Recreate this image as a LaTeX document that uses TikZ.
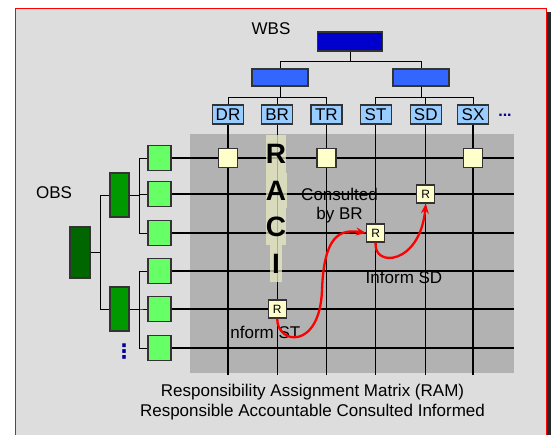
\documentclass[tikz,border=0pt]{standalone}
\usepackage{fontspec}
\setmainfont{Liberation Sans}
\newfontfamily\symbolfont{DejaVu Sans}
\usetikzlibrary{arrows, arrows.meta}
\usetikzlibrary{positioning}

\definecolor{framegrey}{RGB}{221,221,221}
\definecolor{ramgrey}{RGB}{178,178,178}
\definecolor{shadowgrey}{RGB}{40,40,40}
\definecolor{edgegrey}{RGB}{51,51,51}
\definecolor{wbsdark}{RGB}{0,0,204}
\definecolor{wbsmid}{RGB}{51,102,255}
\definecolor{wbslight}{RGB}{153,204,255}
\definecolor{obsdark}{RGB}{0,102,0}
\definecolor{obsmid}{RGB}{0,153,0}
\definecolor{obslight}{RGB}{102,255,102}
\definecolor{cellyellow}{RGB}{255,255,204}
\definecolor{raciband}{RGB}{232,232,192}
\definecolor{morenavy}{RGB}{0,0,153}

\tikzstyle{wbs_top} = [rectangle, draw=edgegrey, fill=wbsdark, line width=1.2pt, minimum width=65pt, minimum height=19pt, inner sep=0pt]
\tikzstyle{wbs_mid} = [rectangle, draw=edgegrey, fill=wbsmid, line width=1.2pt, minimum width=56pt, minimum height=17pt, inner sep=0pt]
\tikzstyle{wbs_leaf} = [rectangle, text centered, draw=edgegrey, fill=wbslight, line width=1.2pt, minimum width=31pt, minimum height=19pt, inner sep=1pt, font=\fontsize{17}{17}\selectfont]
\tikzstyle{obs_top} = [rectangle, draw=edgegrey, fill=obsdark, line width=1.2pt, minimum width=20pt, minimum height=51pt, inner sep=0pt]
\tikzstyle{obs_mid} = [rectangle, draw=edgegrey, fill=obsmid, line width=1.2pt, minimum width=19pt, minimum height=44pt, inner sep=0pt]
\tikzstyle{obs_leaf} = [rectangle, draw=edgegrey, fill=obslight, line width=1.2pt, minimum width=23pt, minimum height=25pt, inner sep=0pt]
\tikzstyle{cell} = [rectangle, draw=edgegrey, fill=cellyellow, line width=1.2pt, minimum size=19pt, inner sep=0pt]
\tikzstyle{raci_cell} = [rectangle, text centered, draw=edgegrey, fill=cellyellow, line width=1.2pt, minimum size=18pt, inner sep=0pt, font=\fontsize{12}{12}\selectfont]
\tikzstyle{raci_letter} = [rectangle, fill=raciband, fill opacity=0.75, text opacity=1, inner sep=0pt, font=\fontsize{28}{28}\selectfont\bfseries]
\tikzstyle{label_text} = [inner sep=0pt, font=\fontsize{17}{20}\selectfont]
\tikzstyle{tree_link} = [black, line width=1pt]
\tikzstyle{grid_line} = [black, line width=1.2pt]
\tikzstyle{raci_flow} = [red, line width=2.3pt, ->, >={Stealth[length=10pt, width=8pt]}]

\begin{document}
\begin{tikzpicture}[x=1pt, y=-1pt]

    \useasboundingbox (0,0) rectangle (551,434);

    % frame with its shadow, and the matrix area
    \fill [shadowgrey] (19,12) rectangle (552,440);
    \draw [red, fill=framegrey, line width=1pt] (15,8) rectangle (546,440);
    \fill [ramgrey] (190,134) rectangle (514,373);

    \coordinate (gridbot) at (0,375);
    \coordinate (gridend) at (514,0);

    % WBS tree
    \node (wbslabel) [label_text] at (271,29) {WBS};
    \node (wbs) [wbs_top] at (350,41.5) {};
    \node (wbsa) [wbs_mid] at (280,77.5) {};
    \node (wbsb) [wbs_mid] at (421,77.5) {};

    \node (DR) [wbs_leaf] at (228,114.5) {DR};
    \node (BR) [wbs_leaf, right=17pt of DR] {BR};
    \node (TR) [wbs_leaf, right=17pt of BR] {TR};
    \node (ST) [wbs_leaf, right=17pt of TR] {ST};
    \node (SD) [wbs_leaf, right=18pt of ST] {SD};
    \node (SX) [wbs_leaf, right=15pt of SD] {SX};
    \node (morewbs) [font=\fontsize{16}{16}\selectfont\bfseries, text=morenavy] at (505,115) {...};

    \draw [tree_link] (wbs.south) -- ++(0,9.5) -| (wbsa.north);
    \draw [tree_link] (wbs.south) -- ++(0,9.5) -| (wbsb.north);
    \draw [tree_link] (wbsa.south) -- ++(0,11) -| (DR.north);
    \draw [tree_link] (wbsa.south) -- ++(0,11) -| (BR.north);
    \draw [tree_link] (wbsa.south) -- ++(0,11) -| (TR.north);
    \draw [tree_link] (wbsb.south) -- ++(0,11) -| (ST.north);
    \draw [tree_link] (wbsb.south) -- ++(0,11) -| (SD.north);
    \draw [tree_link] (wbsb.south) -- ++(0,11) -| (SX.north);

    % OBS tree
    \node (obslabel) [label_text] at (54,193) {OBS};
    \node (obs) [obs_top] at (80,252.5) {};
    \node (obsa) [obs_mid] at (119.5,195) {};
    \node (obsb) [obs_mid] at (119.5,309) {};

    \node (p1) [obs_leaf] at (159.5,158) {};
    \node (p2) [obs_leaf] at (159.5,194) {};
    \node (p3) [obs_leaf] at (159.5,233) {};
    \node (p4) [obs_leaf] at (159.5,271) {};
    \node (p5) [obs_leaf] at (159.5,309) {};
    \node (p6) [obs_leaf] at (159.5,348) {};
    \node (moreobs) [inner sep=0pt, font=\symbolfont\bfseries\fontsize{20}{20}\selectfont, text=morenavy] at (124,352) {⋮};

    \draw [tree_link] (obs.east) -- ++(10,0) |- (obsa.west);
    \draw [tree_link] (obs.east) -- ++(10,0) |- (obsb.west);
    \draw [tree_link] (obsa.east) -- ++(10,0) |- (p1.west);
    \draw [tree_link] (obsa.east) -- ++(10,0) |- (p2.west);
    \draw [tree_link] (obsa.east) -- ++(10,0) |- (p3.west);
    \draw [tree_link] (obsb.east) -- ++(10,0) |- (p4.west);
    \draw [tree_link] (obsb.east) -- ++(10,0) |- (p5.west);
    \draw [tree_link] (obsb.east) -- ++(10,0) |- (p6.west);

    % matrix grid
    \draw [grid_line] (DR.south) -- (DR.south |- gridbot);
    \draw [grid_line] (BR.south) -- (BR.south |- gridbot);
    \draw [grid_line] (TR.south) -- (TR.south |- gridbot);
    \draw [grid_line] (ST.south) -- (ST.south |- gridbot);
    \draw [grid_line] (SD.south) -- (SD.south |- gridbot);
    \draw [grid_line] (SX.south) -- (SX.south |- gridbot);

    \draw [grid_line] (p1.east) -- (p1.east -| gridend);
    \draw [grid_line] (p2.east) -- (p2.east -| gridend);
    \draw [grid_line] (p3.east) -- (p3.east -| gridend);
    \draw [grid_line] (p4.east) -- (p4.east -| gridend);
    \draw [grid_line] (p5.east) -- (p5.east -| gridend);
    \draw [grid_line] (p6.east) -- (p6.east -| gridend);

    \node (c1) [cell] at (DR.south |- p1.east) {};
    \node (c2) [cell] at (TR.south |- p1.east) {};
    \node (c3) [cell] at (SX.south |- p1.east) {};

    % RACI down the BR column
    \node (letR) [raci_letter, minimum width=19pt, minimum height=38pt] at (276,154) {R};
    \node (letA) [raci_letter, minimum width=21pt, minimum height=35pt] at (276,190.5) {A};
    \node (letC) [raci_letter, minimum width=19pt, minimum height=37pt] at (276,226.5) {C};
    \node (letI) [raci_letter, minimum width=12pt, minimum height=37pt] at (276,263.5) {I};

    \node (rst) [raci_cell] at (BR.south |- p5.east) {R};
    \node (rbr) [raci_cell] at (ST.south |- p3.east) {R};
    \node (rsd) [raci_cell] at (SD.south |- p2.east) {R};

    \node (consulted) [label_text, align=center, font=\fontsize{17}{19}\selectfont] at (339.5,206) {Consulted\\by BR};
    \node (informsd) [label_text] at (404,277) {Inform SD};
    \node (informst) [label_text] at (263,332) {Inform ST};

    \draw [raci_flow] (rst.south) .. controls (277,345) and (320,350) .. (322,290) .. controls (324,235) and (340,229) .. (rbr.west);
    \draw [raci_flow] (rbr.south) .. controls (373,268) and (420,265) .. (rsd.south);

    \node (ramtitle) [label_text, align=center] at (312.5,402) {Responsibility Assignment Matrix (RAM)\\Responsible Accountable Consulted Informed};

\end{tikzpicture}
\end{document}
